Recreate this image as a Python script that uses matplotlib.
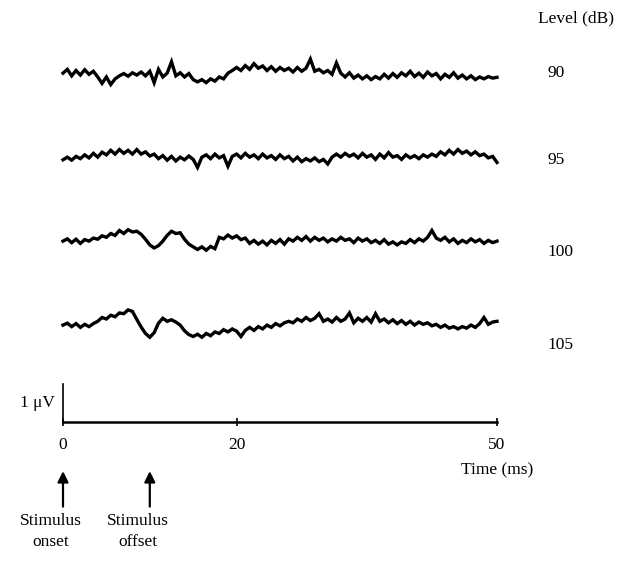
import numpy as np
import matplotlib
matplotlib.use("Agg")
import matplotlib.pyplot as plt

plt.rcParams['font.family'] = ['Liberation Serif', 'DejaVu Serif']

# time axis of the recordings, ms (0.5 ms steps)
time_ms = np.arange(0, 50.5, 0.5)

levels = ['90', '95', '100', '105']

# traces in microvolts
trace_90 = [0.05, 0.15, -0.02, 0.12, 0.0, 0.14, 0.02, 0.1, -0.05, -0.22,
            -0.05, -0.25, -0.1, -0.02, 0.04, -0.03, 0.06, 0.0, 0.08, -0.02,
            0.1, -0.2, 0.15, -0.05, 0.05, 0.35, -0.02, 0.06, -0.05, 0.04,
            -0.12, -0.18, -0.12, -0.2, -0.1, -0.16, -0.05, -0.1, 0.05, 0.12,
            0.2, 0.12, 0.25, 0.15, 0.3, 0.18, 0.24, 0.12, 0.22, 0.1,
            0.2, 0.12, 0.18, 0.08, 0.2, 0.1, 0.18, 0.42, 0.1, 0.15,
            0.06, 0.12, 0.02, 0.32, 0.05, -0.05, 0.06, -0.08, 0.0, -0.1,
            -0.02, -0.12, -0.04, -0.1, 0.02, -0.08, 0.04, -0.06, 0.06, -0.02,
            0.1, -0.04, 0.05, -0.06, 0.08, -0.02, 0.04, -0.1, 0.02, -0.06,
            0.06, -0.08, 0.0, -0.1, -0.02, -0.12, -0.05, -0.1, -0.04, -0.08,
            -0.06]
trace_95 = [-0.05, 0.02, -0.06, 0.04, -0.02, 0.08, 0.0, 0.12, 0.02, 0.15,
            0.08, 0.2, 0.1, 0.22, 0.12, 0.2, 0.1, 0.22, 0.1, 0.16,
            0.05, 0.1, -0.02, 0.06, -0.06, 0.04, -0.08, 0.02, -0.05, 0.05,
            -0.04, -0.25, 0.02, 0.08, -0.02, 0.1, 0.0, 0.06, -0.22, 0.04,
            0.1, 0.0, 0.12, 0.02, 0.08, -0.02, 0.1, 0.0, 0.06, -0.04,
            0.08, -0.02, 0.04, -0.08, 0.02, -0.1, -0.02, -0.08, 0.0, -0.1,
            -0.04, -0.16, 0.02, 0.1, 0.02, 0.12, 0.04, 0.1, 0.0, 0.12,
            0.02, 0.08, -0.04, 0.1, 0.0, 0.14, 0.02, 0.06, -0.04, 0.08,
            0.0, 0.06, -0.02, 0.08, 0.02, 0.1, 0.04, 0.16, 0.08, 0.2,
            0.1, 0.22, 0.12, 0.18, 0.08, 0.16, 0.06, 0.1, 0.0, 0.04,
            -0.12]
trace_100 = [0.0, 0.06, -0.04, 0.05, -0.06, 0.04, 0.0, 0.08, 0.05, 0.14,
             0.1, 0.2, 0.15, 0.28, 0.2, 0.3, 0.24, 0.26, 0.18, 0.05,
             -0.1, -0.18, -0.12, 0.0, 0.15, 0.26, 0.2, 0.22, 0.05, -0.08,
             -0.15, -0.22, -0.15, -0.24, -0.14, -0.2, 0.1, 0.06, 0.16, 0.08,
             0.14, 0.04, 0.08, -0.06, 0.02, -0.08, 0.0, -0.1, 0.02, -0.06,
             0.04, -0.08, 0.06, 0.0, 0.1, 0.02, 0.12, 0.0, 0.1, 0.02,
             0.08, -0.02, 0.06, 0.0, 0.1, 0.02, 0.06, -0.04, 0.08, 0.0,
             0.06, -0.04, 0.02, -0.06, 0.04, -0.08, -0.02, -0.1, -0.02, -0.06,
             0.04, -0.04, 0.06, 0.0, 0.1, 0.28, 0.08, 0.02, 0.1, -0.02,
             0.06, -0.06, 0.02, -0.04, 0.06, -0.02, 0.04, -0.06, 0.02, -0.04,
             0.0]
trace_105 = [0.0, 0.05, -0.04, 0.04, -0.06, 0.02, -0.04, 0.04, 0.1, 0.2,
             0.16, 0.26, 0.22, 0.32, 0.3, 0.4, 0.36, 0.15, -0.05, -0.22,
             -0.32, -0.2, 0.05, 0.18, 0.1, 0.14, 0.08, 0.0, -0.15, -0.25,
             -0.3, -0.24, -0.32, -0.22, -0.28, -0.18, -0.22, -0.12, -0.18, -0.1,
             -0.16, -0.3, -0.14, -0.06, -0.14, -0.04, -0.1, 0.0, -0.06, 0.04,
             -0.02, 0.06, 0.1, 0.06, 0.16, 0.1, 0.2, 0.12, 0.18, 0.3,
             0.1, 0.16, 0.08, 0.2, 0.1, 0.16, 0.32, 0.06, 0.18, 0.1,
             0.2, 0.08, 0.3, 0.1, 0.16, 0.06, 0.14, 0.04, 0.12, 0.02,
             0.1, 0.0, 0.08, 0.02, 0.06, -0.02, 0.02, -0.06, 0.0, -0.08,
             -0.04, -0.1, -0.04, -0.08, 0.0, -0.06, 0.04, 0.2, 0.02, 0.08,
             0.1]
traces = [trace_90, trace_95, trace_100, trace_105]

# vertical place of each trace above the time axis (uV)
offsets = [9.13, 6.95, 4.76, 2.55]
label_y = [9.18, 6.89, 4.47, 2.03]

fig = plt.figure(figsize=(6.25, 5.73), dpi=100)
ax = fig.add_axes([0, 0, 1, 1])
ax.set_xlim(-63 / 8.68, (625 - 63) / 8.68)
ax.set_ylim((422 - 573) / 38, 422 / 38)

for tr, off in zip(traces, offsets):
    ax.plot(time_ms, np.array(tr) + off, color='black', lw=2.4,
            solid_joinstyle='miter')

for lab, y in zip(levels, label_y):
    ax.text(55.8, y, lab, fontsize=12.5, ha='left', va='center')
ax.text(63.5, 10.63, 'Level (dB)', fontsize=12.5, ha='right', va='center')

# scale bar and time axis
for s in ['top', 'right']:
    ax.spines[s].set_visible(False)
ax.spines['left'].set_position(('data', 0))
ax.spines['left'].set_bounds(0, 1)
ax.spines['bottom'].set_position(('data', 0))
ax.spines['bottom'].set_bounds(0, 50)
ax.spines['left'].set_linewidth(1.2)
ax.spines['bottom'].set_linewidth(1.8)
ax.set_yticks([])
ax.set_xticks([0, 20, 50])
ax.set_xticklabels(['0', '20', '50'])
ax.tick_params(axis='x', direction='inout', length=6, width=1.2,
               labelsize=12.5, pad=8)
ax.text(-0.9, 0.5, '1 \u03bcV', fontsize=12.5, ha='right', va='center')
ax.text(50.0, -1.28, 'Time (ms)', fontsize=12.5, ha='center', va='center')

# stimulus markers
for t, txt in [(0, 'Stimulus\nonset'), (10, 'Stimulus\noffset')]:
    ax.annotate('', xy=(t, -1.22), xytext=(t, -2.3),
                arrowprops=dict(arrowstyle='-|>', lw=1.6, color='black',
                                mutation_scale=16))
    ax.text(t - 1.4, -2.4, txt, fontsize=12.5, ha='center', va='top',
            linespacing=1.4)

fig.savefig('out.png', dpi=100)
